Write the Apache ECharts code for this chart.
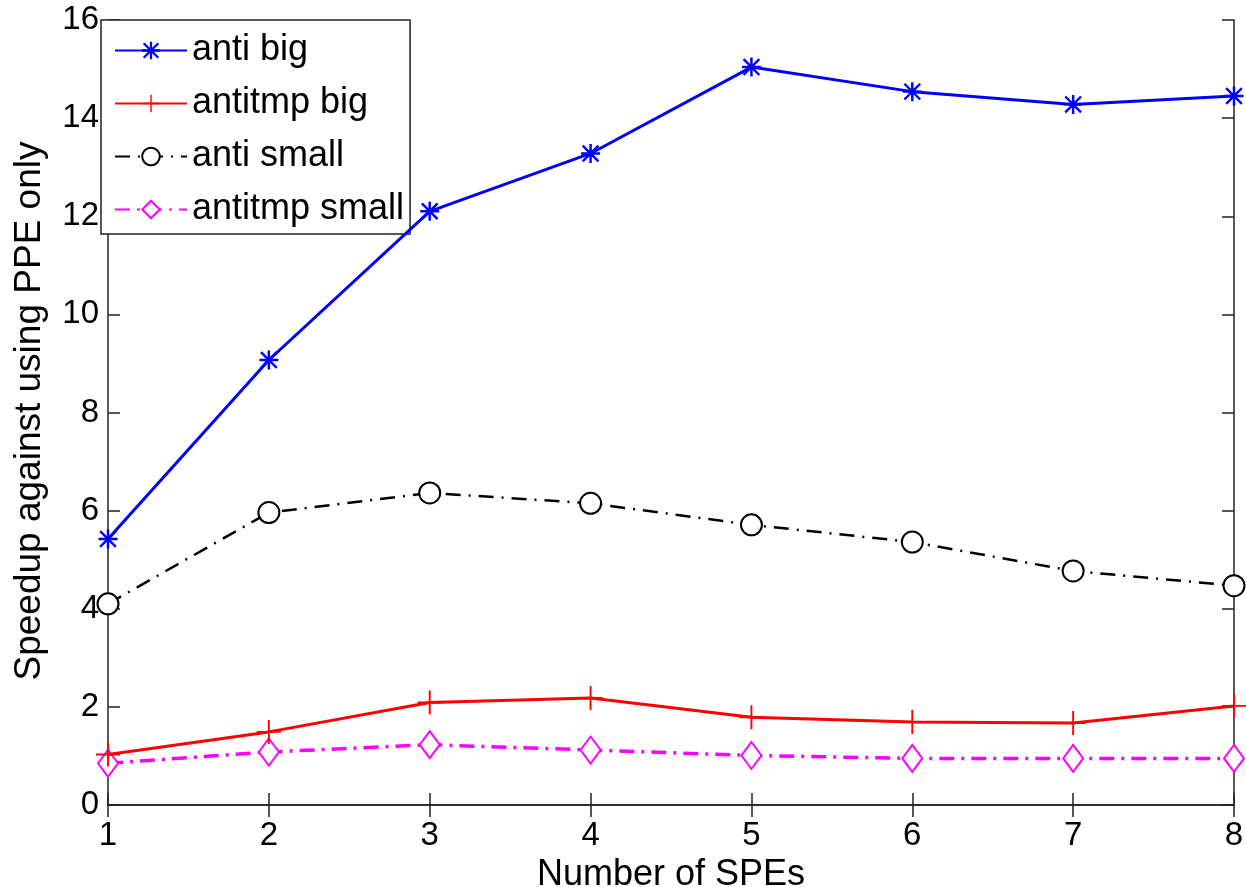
<!DOCTYPE html>
<html>
<head>
<meta charset="utf-8">
<title>Speedup against using PPE only</title>
<script src="https://cdn.jsdelivr.net/npm/echarts@6/dist/echarts.min.js"></script>
<style>
  html, body { margin: 0; padding: 0; background: #fff; }
  #chart { width: 1246px; height: 887px; }
</style>
</head>
<body>
<div id="chart"></div>
<script>
// data
const speCounts = [1, 2, 3, 4, 5, 6, 7, 8];
const antiBig = [5.42, 9.07, 12.1, 13.28, 15.04, 14.54, 14.28, 14.45];
const antitmpBig = [1.03, 1.49, 2.09, 2.18, 1.79, 1.69, 1.67, 2.02];
const antiSmall = [4.1, 5.96, 6.36, 6.15, 5.71, 5.36, 4.77, 4.47];
const antitmpSmall = [0.85, 1.08, 1.23, 1.12, 1.01, 0.95, 0.95, 0.95];
const yTicks = [0, 2, 4, 6, 8, 10, 12, 14, 16];

const FONT = '"Liberation Sans", Arial, Helvetica, sans-serif';

// marker shapes (filled paths, thin bars)
const asterisk = 'path://M8.7 0h2.6v20h-2.6zM0 8.7h20v2.6h-20zM2.6 0.8L19.2 17.4L17.4 19.2L0.8 2.6zM17.4 0.8L19.2 2.6L2.6 19.2L0.8 17.4z';
const plus = 'path://M9.2 0h1.6v20h-1.6zM0 9.2h20v1.6h-20z';

function pairs(values) {
  return speCounts.map((x, i) => [x, values[i]]);
}

const chart = echarts.init(document.getElementById('chart'));

const axisLine = { show: true, lineStyle: { color: '#222', width: 1.5 } };
const axisTick = { show: true, inside: true, length: 12, lineStyle: { color: '#222', width: 1.5 } };

const option = {
  backgroundColor: '#fff',
  animation: false,
  textStyle: { fontFamily: FONT },
  grid: { left: 108, right: 12, top: 20, bottom: 82, containLabel: false, outerBoundsMode: 'none' },
  legend: {
    orient: 'vertical',
    left: 101,
    top: 20,
    padding: [12, 6, 6, 13],
    itemWidth: 72,
    itemHeight: 22,
    itemGap: 16,
    backgroundColor: '#fff',
    borderColor: '#222',
    borderWidth: 1.5,
    borderRadius: 0,
    selectedMode: false,
    textStyle: { fontSize: 36, color: '#000', fontFamily: FONT, lineHeight: 37 },
    data: ['anti big', 'antitmp big', 'anti small', 'antitmp small']
  },
  xAxis: [
    {
      type: 'value',
      min: 1,
      max: 8,
      interval: 1,
      position: 'bottom',
      name: 'Number of SPEs',
      nameLocation: 'middle',
      nameGap: 51,
      nameTextStyle: { fontSize: 36, color: '#000', fontFamily: FONT },
      axisLine: axisLine,
      axisTick: axisTick,
      axisLabel: { fontSize: 33, color: '#000', margin: 14, fontFamily: FONT },
      splitLine: { show: false }
    },
    {
      type: 'value',
      min: 1,
      max: 8,
      interval: 1,
      position: 'top',
      axisLine: axisLine,
      axisTick: axisTick,
      axisLabel: { show: false },
      splitLine: { show: false }
    }
  ],
  yAxis: [
    {
      type: 'value',
      min: yTicks[0],
      max: yTicks[yTicks.length - 1],
      interval: 2,
      position: 'left',
      axisLine: axisLine,
      axisTick: axisTick,
      axisLabel: { fontSize: 33, color: '#000', margin: 9, fontFamily: FONT },
      splitLine: { show: false }
    },
    {
      type: 'value',
      min: yTicks[0],
      max: yTicks[yTicks.length - 1],
      interval: 2,
      position: 'right',
      axisLine: axisLine,
      axisTick: axisTick,
      axisLabel: { show: false },
      splitLine: { show: false }
    }
  ],
  graphic: [
    {
      type: 'text',
      x: 30,
      y: 411,
      rotation: Math.PI / 2,
      style: {
        text: 'Speedup against using PPE only',
        fontSize: 37,
        fontFamily: FONT,
        fill: '#000',
        align: 'center',
        verticalAlign: 'middle'
      }
    }
  ],
  series: [
    {
      name: 'anti big',
      type: 'line',
      data: pairs(antiBig),
      symbol: asterisk,
      symbolSize: 19,
      lineStyle: { color: '#0000ff', width: 3 },
      itemStyle: { color: '#0000ff' },
      z: 5
    },
    {
      name: 'antitmp big',
      type: 'line',
      data: pairs(antitmpBig),
      symbol: plus,
      symbolSize: 24,
      lineStyle: { color: '#ff0000', width: 3 },
      itemStyle: { color: '#ff0000' },
      z: 4
    },
    {
      name: 'anti small',
      type: 'line',
      data: pairs(antiSmall),
      symbol: 'emptyCircle',
      symbolSize: 21,
      lineStyle: { color: '#000', width: 2.5, type: [15, 8, 2, 8] },
      itemStyle: { color: '#000', borderColor: '#000', borderWidth: 2.8 },
      z: 3
    },
    {
      name: 'antitmp small',
      type: 'line',
      data: pairs(antitmpSmall),
      symbol: 'emptyDiamond',
      symbolSize: [20, 27],
      lineStyle: { color: '#ff00ff', width: 3.5, type: [15, 7, 3, 7] },
      itemStyle: { color: '#ff00ff', borderColor: '#ff00ff', borderWidth: 3 },
      z: 3
    }
  ]
};

chart.setOption(option);
</script>
</body>
</html>
